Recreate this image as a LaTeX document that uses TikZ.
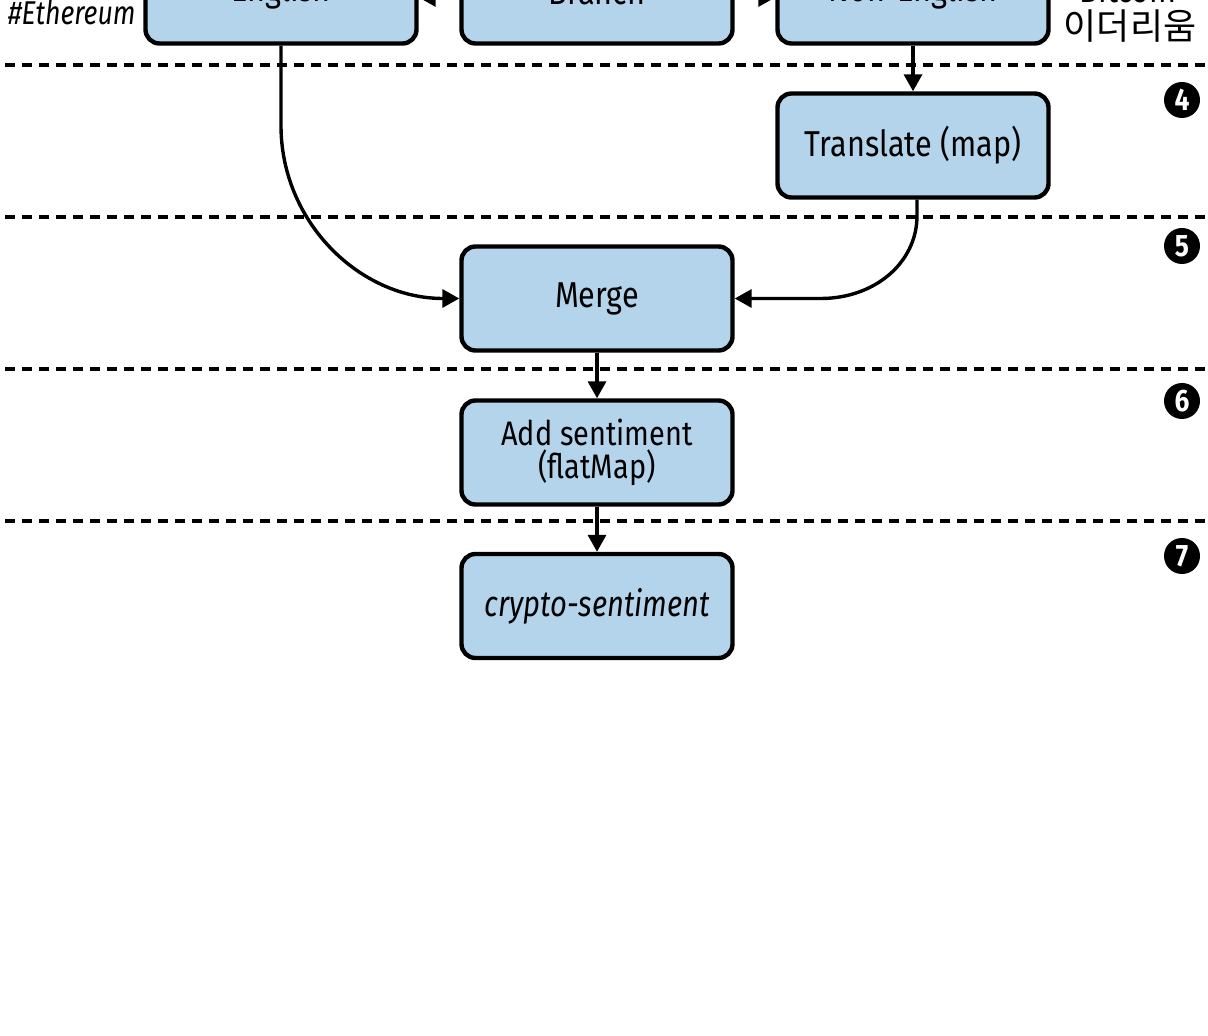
\documentclass[tikz,border=0pt]{standalone}
\usepackage{fontspec}
\setmainfont{Fira Sans}[FakeStretch=0.85, ItalicFeatures={FakeStretch=0.81}]
\newfontfamily\kr{Noto Sans CJK KR}
\usetikzlibrary{arrows.meta,calc}
\definecolor{boxblue}{RGB}{179,212,234}
\begin{document}
\begin{tikzpicture}[x=0.5pt,y=-0.5pt,
  box/.style={draw=black, line width=2.2pt, fill=boxblue, rounded corners=7pt,
    minimum width=135.5pt, minimum height=52pt, inner sep=0pt, align=center,
    font=\fontsize{18}{21}\selectfont},
  conn/.style={line width=1.7pt, -{Triangle[length=8.5pt,width=9pt]}},
  sepline/.style={line width=1.9pt, dash pattern=on 4.75pt off 3.75pt},
  num/.style={circle, fill=black, text=white, minimum size=18pt, inner sep=0pt,
    font=\bfseries\fontsize{15.5}{15.5}\selectfont},
  lab/.style={inner sep=0pt, font=\fontsize{18}{21}\selectfont}]
\useasboundingbox (0,0) rectangle (1208,1036);
\clip (0,0) rectangle (1208,1036);
\fill[white] (0,0) rectangle (1208,1036);

% separators
\draw[sepline] (5,65) -- (1208,65);
\draw[sepline] (5,217) -- (1208,217);
\draw[sepline] (5,369) -- (1208,369);
\draw[sepline] (5,521) -- (1208,521);

% boxes
\node[box] (English) at (281,-8.5) {English};
\node[box] (Branch) at (597,-8.5) {Branch};
\node[box] (NonEnglish) at (913,-8.5) {Non-English};
\node[box] (Translate) at (913,145.5) {Translate (map)};
\node[box] (Merge) at (597,298.5) {Merge};
\node[box, font=\fontsize{17}{16.5}\selectfont] (Add) at (597,452.5) {Add sentiment\\(flatMap)};
\node[box] (Crypto) at (597,606) {\itshape crypto-sentiment};

% labels
\node[lab, anchor=base east, font=\fontsize{16.5}{20}\selectfont] (eth) at (136,25) {\itshape \#Ethereum};
\node[lab, anchor=base] (btc) at (1128,3) {Bitcoin};
\node[inner sep=0pt, font=\kr\fontsize{18}{20}\selectfont] (korean) at (1130,26) {이더리움};

% step numbers
\node[num] (n4) at (1182,100) {4};
\node[num] (n5) at (1182,246) {5};
\node[num] (n6) at (1182,401) {6};
\node[num] (n7) at (1182,556) {7};

% connectors
\draw[conn] ($(Branch.west)+(0,6)$) -- ($(English.east)+(0,6)$);
\draw[conn] ($(Branch.east)+(0,6)$) -- ($(NonEnglish.west)+(0,6)$);
\draw[conn] (NonEnglish.south) -- (Translate.north);
\draw[conn] (English.south) -- ++(0,80) .. controls +(0,96) and +(-100,0) .. (Merge.west);
\coordinate (t0) at ($(Translate.south)+(4,0)$);
\coordinate (m2) at ($(Merge.east)+(86,0)$);
\draw[conn] (t0) -- ++(0,16) .. controls +(0,47) and +(54,0) .. (m2) -- (Merge.east);
\draw[conn] (Merge.south) -- (Add.north);
\draw[conn] (Add.south) -- (Crypto.north);
\end{tikzpicture}
\end{document}
